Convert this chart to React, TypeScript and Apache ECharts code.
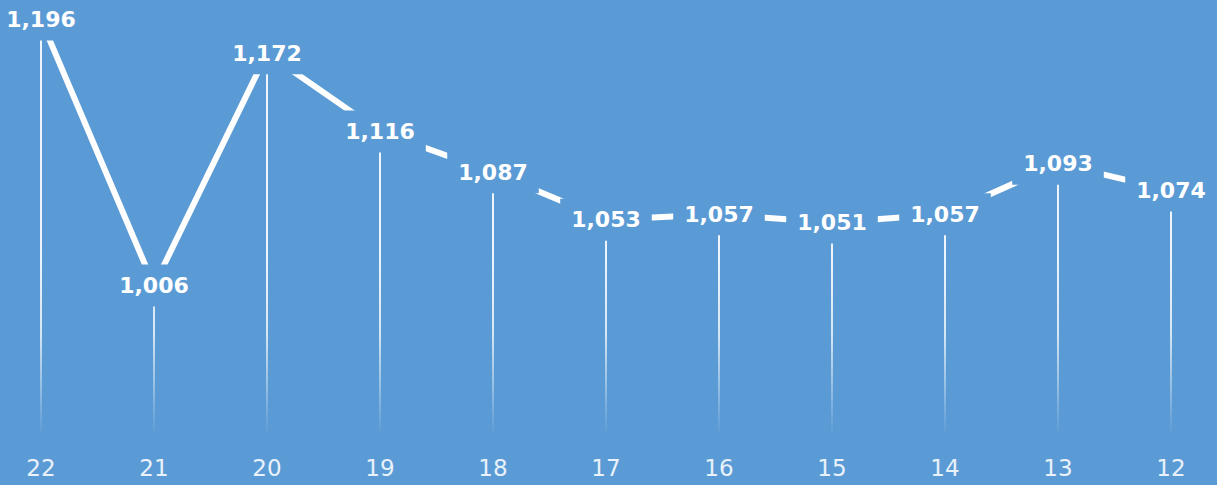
import React, { useEffect, useRef } from "react";
import * as echarts from "echarts";

const categories = ["22", "21", "20", "19", "18", "17", "16", "15", "14", "13", "12"];
const values = [1196, 1006, 1172, 1116, 1087, 1053, 1057, 1051, 1057, 1093, 1074];

const BG = "#5b9bd5";

export default function App() {
  const ref = useRef<HTMLDivElement>(null);
  useEffect(() => {
    if (!ref.current) return;
    const chart = echarts.init(ref.current, null, { renderer: "svg" });
    const lineData = values.map((v, i) =>
      i === 0 ? { value: v, label: { offset: [5, 0] } } : v
    );
    chart.setOption({
      animation: false,
      backgroundColor: BG,
      grid: { left: 41, right: 46, top: 0, bottom: 51 },
      xAxis: {
        type: "category",
        data: categories,
        boundaryGap: false,
        axisLine: { show: false },
        axisTick: { show: false },
        axisLabel: {
          color: "#e9f1fa",
          fontFamily: "DejaVu Sans",
          fontSize: 23,
          margin: 22,
        },
        splitLine: { show: false },
      },
      yAxis: {
        type: "value",
        min: 900,
        max: 1210,
        show: false,
        splitLine: { show: false },
      },
      series: [
        {
          type: "bar",
          data: values,
          barWidth: 2,
          silent: true,
          z: 1,
          itemStyle: {
            color: new echarts.graphic.LinearGradient(
              0,
              250,
              0,
              435,
              [
                { offset: 0, color: "rgba(255,255,255,0.9)" },
                { offset: 0.45, color: "rgba(255,255,255,0.75)" },
                { offset: 1, color: "rgba(255,255,255,0)" },
              ],
              true
            ),
          },
        },
        {
          type: "line",
          data: lineData,
          z: 3,
          symbol: "circle",
          symbolSize: 1,
          showSymbol: true,
          itemStyle: { color: "rgba(255,255,255,0)" },
          lineStyle: { color: "#ffffff", width: 6 },
          label: {
            show: true,
            position: "inside",
            formatter: (p: any) => Number(p.value).toLocaleString("en-US"),
            color: "#ffffff",
            fontFamily: "DejaVu Sans",
            fontWeight: "bold",
            fontSize: 22,
            backgroundColor: BG,
            padding: [10, 11, 10, 11],
          },
          labelLayout: { hideOverlap: false },
        },
      ],
    });
    return () => chart.dispose();
  }, []);
  return (
    <div
      ref={ref}
      style={{ position: "fixed", left: 0, top: 0, width: 1217, height: 485 }}
    />
  );
}
